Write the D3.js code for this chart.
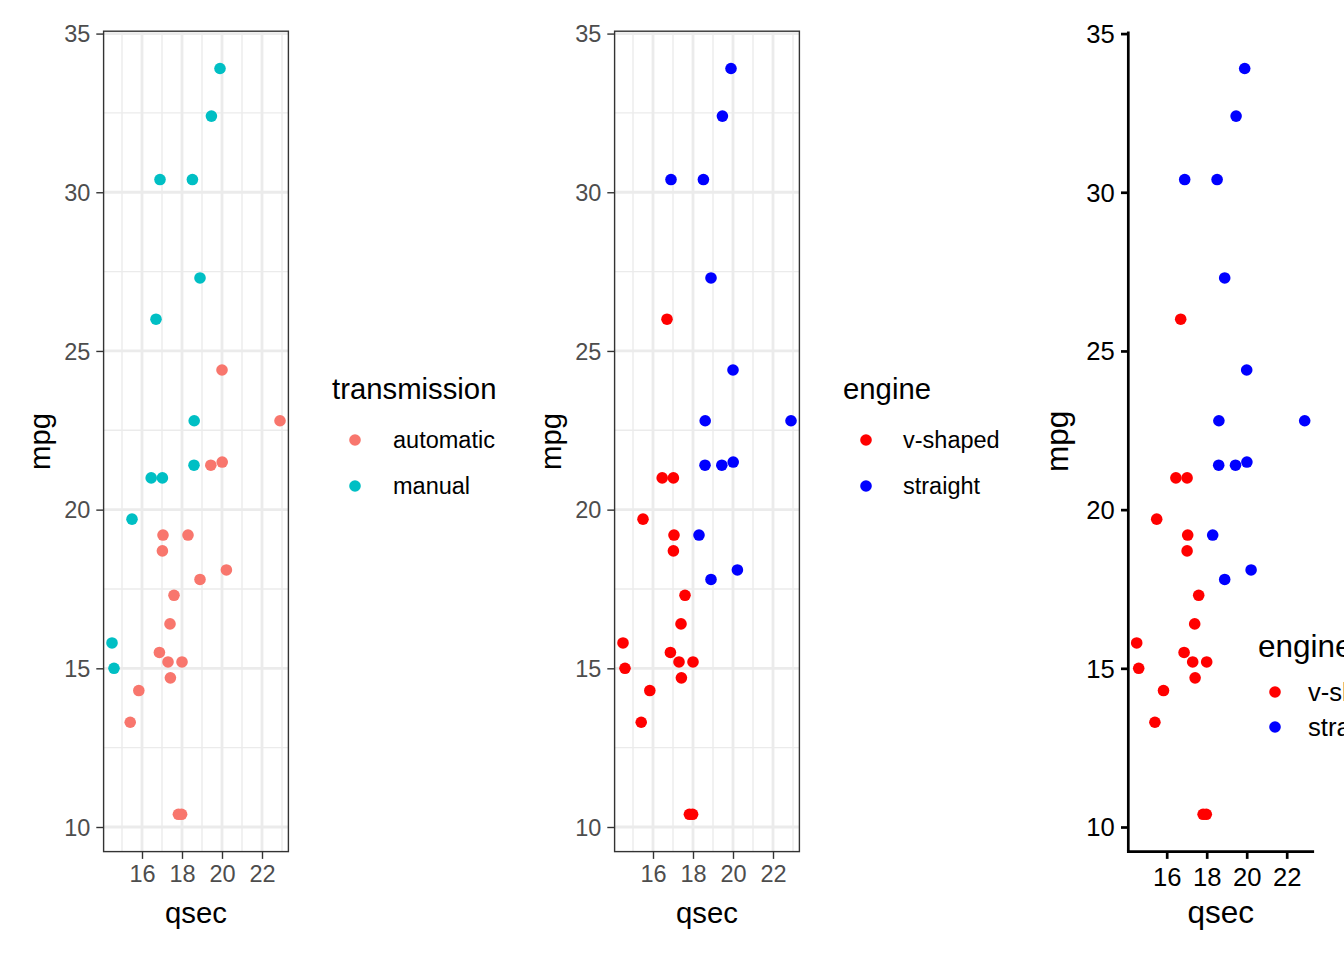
<!DOCTYPE html>
<html><head><meta charset="utf-8">
<script src="https://cdn.jsdelivr.net/npm/d3@7"></script>
<style>body{margin:0;background:#fff}svg{display:block;font-family:"Liberation Sans",Arial,sans-serif}</style>
</head><body>
<script>
// mtcars
const qsec = [16.46,17.02,18.61,19.44,17.02,20.22,15.84,20.00,22.90,18.30,18.90,17.40,17.60,18.00,17.98,17.82,17.42,19.47,18.52,19.90,20.01,16.87,17.30,15.41,17.05,18.90,16.70,16.90,14.50,15.50,14.60,18.60];
const mpg  = [21.0,21.0,22.8,21.4,18.7,18.1,14.3,24.4,22.8,19.2,17.8,16.4,17.3,15.2,10.4,10.4,14.7,32.4,30.4,33.9,21.5,15.5,15.2,13.3,19.2,27.3,26.0,30.4,15.8,19.7,15.0,21.4];
const am   = [1,1,1,0,0,0,0,0,0,0,0,0,0,0,0,0,0,1,1,1,0,0,0,0,0,1,1,1,1,1,1,1];
const vs   = [0,0,1,1,0,1,0,1,1,1,1,0,0,0,0,0,0,1,1,1,1,0,0,0,0,1,0,1,0,0,0,1];
const transmissionLevels = ["automatic","manual"];
const engineLevels = ["v-shaped","straight"];
const xTicks = [16,18,20,22];
const yTicks = [10,15,20,25,30,35];
const xMinor = [15,17,19,21,23];
const yMinor = [12.5,17.5,22.5,27.5,32.5];

const W = 1344, H = 960;
const svg = d3.select("body").append("svg").attr("width", W).attr("height", H);

const xExt = d3.extent(qsec), yExt = d3.extent(mpg);
const xPad = (xExt[1]-xExt[0])*0.05, yPad = (yExt[1]-yExt[0])*0.05;
const plotTop = 31.2, plotBottom = 851.6;

const panels = [
  {left:103.6, groups: am.map(v=>transmissionLevels[v]), levels: transmissionLevels, colors:["#F8766D","#00BFC4"], title:"transmission", style:"bw",
   leg:{tx:332, ty:399, kx:355, lx:393, ky:[440,486]}},
  {left:614.6, groups: vs.map(v=>engineLevels[v]), levels: engineLevels, colors:["#FF0000","#0000FF"], title:"engine", style:"bw",
   leg:{tx:843, ty:399, kx:866, lx:903, ky:[440,486]}},
  {left:1128.3, groups: vs.map(v=>engineLevels[v]), levels: engineLevels, colors:["#FF0000","#0000FF"], title:"engine", style:"classic",
   leg:{tx:1258, ty:657, kx:1275, lx:1308, ky:[692,727]}}
];

panels.forEach(p => {
  const x = d3.scaleLinear().domain([xExt[0]-xPad, xExt[1]+xPad]).range([p.left, p.left+184.8]);
  const y = d3.scaleLinear().domain([yExt[0]-yPad, yExt[1]+yPad]).range([plotBottom, plotTop]);
  const col = d3.scaleOrdinal().domain(p.levels).range(p.colors);
  const g = svg.append("g");
  const bw = p.style === "bw";
  const tickCol = bw ? "#4D4D4D" : "#000";
  const tickFs = bw ? 23.5 : 25.6;
  const titleFs = bw ? 29.3 : 31.5;
  const legFs = bw ? 23.5 : 25.6;
  const x0 = x.range()[0], x1 = x.range()[1];

  if (bw) {
    g.append("rect").attr("x", x0).attr("y", plotTop).attr("width", x1-x0).attr("height", plotBottom-plotTop).attr("fill","#fff");
    const grid = g.append("g");
    xMinor.filter(v=>x(v)<=x1).forEach(v=>grid.append("line").attr("x1",x(v)).attr("x2",x(v)).attr("y1",plotTop).attr("y2",plotBottom).attr("stroke","#EBEBEB").attr("stroke-width",1.4));
    yMinor.forEach(v=>grid.append("line").attr("y1",y(v)).attr("y2",y(v)).attr("x1",x0).attr("x2",x1).attr("stroke","#EBEBEB").attr("stroke-width",1.4));
    xTicks.forEach(v=>grid.append("line").attr("x1",x(v)).attr("x2",x(v)).attr("y1",plotTop).attr("y2",plotBottom).attr("stroke","#EBEBEB").attr("stroke-width",2.8));
    yTicks.forEach(v=>grid.append("line").attr("y1",y(v)).attr("y2",y(v)).attr("x1",x0).attr("x2",x1).attr("stroke","#EBEBEB").attr("stroke-width",2.8));
  }

  g.append("g").selectAll("circle").data(qsec.map((q,i)=>({q, m:mpg[i], k:p.groups[i]})))
    .join("circle").attr("cx", d=>x(d.q)).attr("cy", d=>y(d.m)).attr("r", 5.8).attr("fill", d=>col(d.k));

  if (bw) {
    g.append("rect").attr("x", x0).attr("y", plotTop).attr("width", x1-x0).attr("height", plotBottom-plotTop)
      .attr("fill","none").attr("stroke","#333333").attr("stroke-width",1.4);
  }

  const pad = bw ? 5.9 : 6.4;
  const xa = g.append("g").attr("transform", `translate(0,${plotBottom})`)
    .call(d3.axisBottom(x).tickValues(xTicks).tickSize(7.3).tickPadding(pad).tickFormat(d3.format("d")));
  const ya = g.append("g").attr("transform", `translate(${p.left},0)`)
    .call(d3.axisLeft(y).tickValues(yTicks).tickSize(7.3).tickPadding(pad).tickFormat(d3.format("d")));
  [xa, ya].forEach(a => {
    a.attr("font-family", null).attr("font-size", null);
    a.selectAll("text").attr("fill", tickCol).attr("font-size", tickFs);
    a.selectAll(".tick line").attr("stroke", bw ? "#333333" : "#000").attr("stroke-width", bw ? 1.4 : 2.7);
    if (bw) a.select(".domain").remove();
    else a.select(".domain").attr("stroke","#000").attr("stroke-width",2.7);
  });
  xa.selectAll("text").attr("dy", null).attr("y", 7.3 + pad + tickFs*0.74 + (bw ? 0 : 2));
  ya.selectAll("text").attr("dy","0.35em");
  if (!bw) {
    xa.select(".domain").attr("d", `M${x0-1.35},0H${x1+1}`);
    ya.select(".domain").attr("d", `M0,${plotBottom}V${y(35)-2}`);
  }

  const cx = (x0+x1)/2;
  g.append("text").attr("x", cx).attr("y", 923).attr("text-anchor","middle").attr("font-size", titleFs).attr("fill","#000").text("qsec");
  const ylx = bw ? p.left - 53.6 : p.left - 60.3;
  g.append("text").attr("transform", `translate(${ylx},${(plotTop+plotBottom)/2}) rotate(-90)`).attr("text-anchor","middle")
    .attr("font-size", titleFs).attr("fill","#000").text("mpg");

  const L = p.leg;
  g.append("text").attr("x", L.tx).attr("y", L.ty).attr("font-size", titleFs).attr("fill","#000").text(p.title);
  p.levels.forEach((lv,i) => {
    g.append("circle").attr("cx", L.kx).attr("cy", L.ky[i]).attr("r", 5.8).attr("fill", col(lv));
    g.append("text").attr("x", L.lx).attr("y", L.ky[i]).attr("dy","0.35em").attr("font-size", legFs).attr("fill","#000").text(lv);
  });
});
</script>
</body></html>
